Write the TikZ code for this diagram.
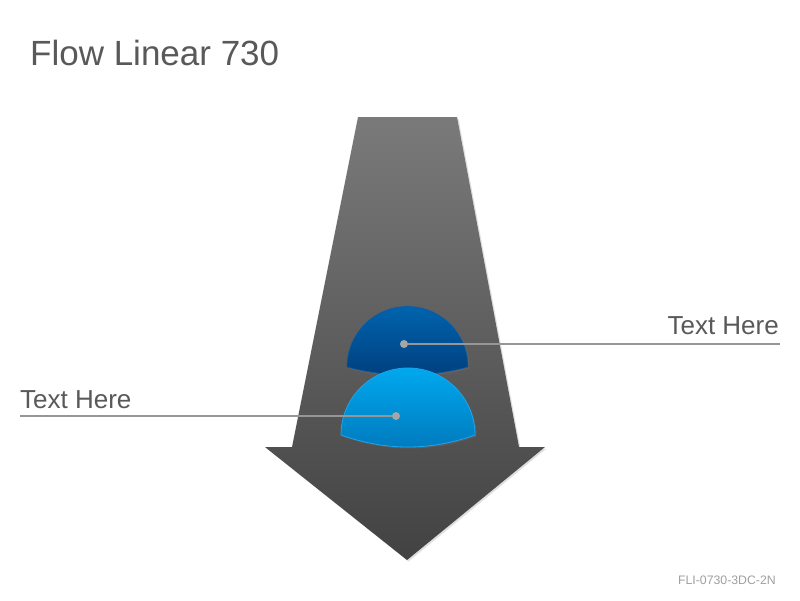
\documentclass[tikz,border=0pt]{standalone}
\usepackage{fontspec}
\setmainfont{Liberation Sans}
\usetikzlibrary{shadows}
\definecolor{txtgray}{HTML}{595959}
\definecolor{footgray}{HTML}{A0A0A0}
\definecolor{linegray}{HTML}{969696}
\definecolor{dotgray}{HTML}{A6A6A6}
\definecolor{arrowtop}{HTML}{7A7A7A}
\definecolor{arrowbot}{HTML}{424242}
\definecolor{darktop}{HTML}{0063AE}
\definecolor{darkbot}{HTML}{003F7C}
\definecolor{darkedge}{HTML}{0A5CA6}
\definecolor{lighttop}{HTML}{00A8EE}
\definecolor{lightbot}{HTML}{0079BC}
\definecolor{lightedge}{HTML}{1AA6F0}
\tikzset{
  titletext/.style={font=\fontsize{35}{40}\selectfont, text=txtgray, inner sep=0pt},
  labeltext/.style={font=\fontsize{26}{31}\selectfont, text=txtgray, inner sep=0pt},
  foottext/.style={font=\fontsize{12.3}{15}\selectfont, text=footgray, inner sep=0pt},
  pin/.style={circle, fill=dotgray, inner sep=0pt, minimum size=8pt},
  leader/.style={draw=linegray, line width=2.2pt},
  softshadow/.style={drop shadow={opacity=0.25, shadow xshift=1.5pt, shadow yshift=-1.5pt}}
}
\begin{document}
\begin{tikzpicture}[x=1pt,y=-1pt]
\useasboundingbox (0,0) rectangle (800,600);
\fill[white] (0,0) rectangle (800,600);
% big arrow
\path[top color=arrowtop, bottom color=arrowbot, softshadow]
  (358,117) -- (457,117) -- (519,447) -- (545,447) -- (407,560)
  -- (265,447) -- (292,447) -- cycle;
% dark half disc
\path[top color=darktop, bottom color=darkbot, draw=darkedge, line width=0.6pt, softshadow]
  (347,367) arc[start angle=180, end angle=360, radius=60.5]
  .. controls (427.7,377.7) and (387.3,377.7) .. (347,367) -- cycle;
% light half disc
\path[top color=lighttop, bottom color=lightbot, draw=lightedge, line width=0.8pt, softshadow]
  (341,435) arc[start angle=180, end angle=360, radius=67]
  .. controls (430.3,451) and (385.7,451) .. (341,435) -- cycle;
% title
\node[titletext, anchor=base west] (title) at (30,65) {Flow Linear 730};
% labels
\node[labeltext, anchor=base east] (lblR) at (779,334) {Text Here};
\node[labeltext, anchor=base west] (lblL) at (20,408) {Text Here};
\node[foottext, anchor=base east] (foot) at (776,584) {FLI-0730-3DC-2N};
% leader lines
\coordinate (endR) at (780,344);
\coordinate (endL) at (20,416);
\node[pin] (dotR) at (404,344) {};
\node[pin] (dotL) at (396,416) {};
\draw[leader] (dotR) -- (endR);
\draw[leader] (dotL) -- (endL);
\end{tikzpicture}
\end{document}
